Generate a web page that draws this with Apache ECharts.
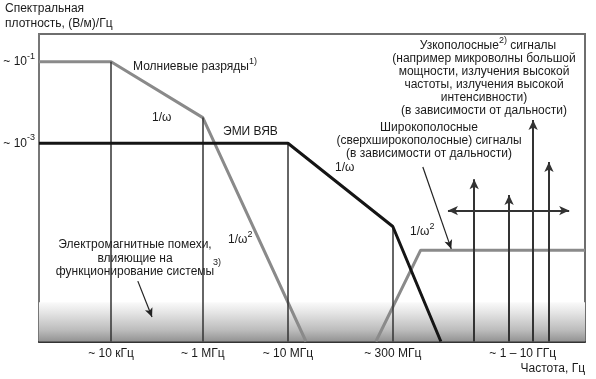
<!DOCTYPE html>
<html><head><meta charset="utf-8">
<script src="https://cdn.jsdelivr.net/npm/echarts@6/dist/echarts.min.js"></script>
<style>html,body{margin:0;padding:0;background:#fff}#c{width:596px;height:379px}</style>
</head><body><div id="c"></div>
<script>
// x: schematic frequency position (0..100 along the axis, axis is not to scale)
// y: log10 of spectral density, (V/m)/Hz
const xTickPos = [13.2, 30.0, 45.6, 64.8, 88.6];
const xTickLabels = ['~ 10 кГц', '~ 1 МГц', '~ 10 МГц', '~ 300 МГц', '~ 1 – 10 ГГц'];
const yTickPos = [-1, -3];
const yTickExp = ['-1', '-3'];

const lightningX = [0, 13.2, 30.0, 48.9];
const lightningY = [-1, -1, -2.37, -7.86];
const empX = [0, 45.6, 64.8, 73.6];
const empY = [-3, -3, -5.04, -7.86];
const widebandX = [61.7, 69.9, 100];
const widebandY = [-7.86, -5.62, -5.62];

const narrowX = [79.7, 86.1, 90.5, 93.4];
const narrowTop = [-3.88, -4.27, -2.43, -3.46];
const narrowRangeX = [74.9, 97.1];
const narrowRangeY = -4.65;

const dropX = [13.2, 30.0, 45.6, 64.8];
const dropTop = [-1, -2.37, -3, -5.04];

const noteArrowFrom = [[18.1, -6.38], [70.3, -3.58]];
const noteArrowTo = [[20.7, -7.26], [75.5, -5.59]];

const Y_MIN = -7.86, Y_MAX = -0.32;
const bandTop = -6.9;

const FONT = '"Liberation Sans", Arial, sans-serif';
const TXT = '#1a1a1a';

const zip = (xs, ys) => xs.map((x, i) => [x, ys[i]]);

const chart = echarts.init(document.getElementById('c'), null, {renderer: 'canvas'});

function txt(x, y, text, opts) {
  opts = opts || {};
  return {
    type: 'text', x: x, y: y, silent: true,
    style: {
      text: text, fill: TXT, fontSize: opts.fontSize || 12, fontFamily: FONT,
      textAlign: opts.align || 'left', textVerticalAlign: 'middle',
      lineHeight: opts.lineHeight || 14,
      rich: {
        s: {fontSize: 9, fontFamily: FONT, fill: TXT, color: TXT, verticalAlign: 'top'},
        b: {fontSize: 12, fontFamily: FONT, fill: TXT, color: TXT, lineHeight: opts.lineHeight || 14}
      }
    }
  };
}

const option = {
  animation: false,
  backgroundColor: '#fff',
  grid: {left: 39, right: 11, top: 34, bottom: 37.5, show: true, borderColor: '#6e6e6e', borderWidth: 2, containLabel: false},
  xAxis: {
    type: 'value', min: 0, max: 100,
    axisLine: {show: true, lineStyle: {color: '#333', width: 2}},
    axisTick: {show: false},
    splitLine: {show: false},
    axisLabel: {
      customValues: xTickPos, margin: 6, color: TXT, fontSize: 12, fontFamily: FONT,
      formatter: v => xTickLabels[xTickPos.indexOf(v)] || ''
    }
  },
  yAxis: {
    type: 'value', min: Y_MIN, max: Y_MAX,
    axisLine: {show: true, lineStyle: {color: '#777', width: 2}},
    axisTick: {show: false},
    splitLine: {show: false},
    axisLabel: {
      customValues: yTickPos, margin: 4, color: TXT, fontSize: 12, fontFamily: FONT,
      formatter: v => '{b|~ 10}{s|' + yTickExp[yTickPos.indexOf(v)] + '}',
      rich: {
        s: {fontSize: 9, fontFamily: FONT, color: TXT, verticalAlign: 'top'},
        b: {fontSize: 12, fontFamily: FONT, color: TXT, lineHeight: 20}
      }
    }
  },
  series: [
    {
      name: 'band', type: 'line', data: [], z: 1, silent: true,
      markArea: {
        silent: true,
        itemStyle: {
          color: {type: 'linear', x: 0, y: 0, x2: 0, y2: 1, colorStops: [
            {offset: 0, color: '#fafafa'}, {offset: 0.25, color: '#e6e6e6'},
            {offset: 0.7, color: '#bdbdbd'}, {offset: 1, color: '#939393'}]}
        },
        data: [[{coord: [0, bandTop]}, {coord: [100, Y_MIN]}]]
      }
    },
    {
      name: 'drops', type: 'line', data: [], z: 2, silent: true,
      markLine: {
        silent: true, symbol: ['none', 'none'], label: {show: false},
        lineStyle: {color: '#333', width: 1.5, type: 'solid'},
        data: dropX.map((x, i) => [{coord: [x, dropTop[i]]}, {coord: [x, Y_MIN]}])
      }
    },
    {
      name: 'narrowband', type: 'line', data: [], z: 3, silent: true,
      markLine: {
        silent: true, symbol: ['none', 'arrow'], symbolSize: [7, 10], label: {show: false},
        lineStyle: {color: '#333', width: 2, type: 'solid'},
        data: narrowX.map((x, i) => [{coord: [x, Y_MIN]}, {coord: [x, narrowTop[i]]}]).concat([
          [{coord: [narrowRangeX[0], narrowRangeY], symbol: 'arrow'}, {coord: [narrowRangeX[1], narrowRangeY]}]
        ])
      }
    },
    {
      name: 'notes', type: 'line', data: [], z: 3, silent: true,
      markLine: {
        silent: true, symbol: ['none', 'arrow'], symbolSize: [6, 9], label: {show: false},
        lineStyle: {color: '#222', width: 1.2, type: 'solid'},
        data: noteArrowFrom.map((p, i) => [{coord: p}, {coord: noteArrowTo[i]}])
      }
    },
    {
      name: 'Молниевые разряды', type: 'line', data: zip(lightningX, lightningY), z: 4,
      symbol: 'none', lineStyle: {color: '#8a8a8a', width: 3}, silent: true
    },
    {
      name: 'ЭМИ ВЯВ', type: 'line', data: zip(empX, empY), z: 5,
      symbol: 'none', lineStyle: {color: '#151515', width: 3}, silent: true
    },
    {
      name: 'Широкополосные', type: 'line', data: zip(widebandX, widebandY), z: 4,
      symbol: 'none', lineStyle: {color: '#8a8a8a', width: 3}, silent: true
    }
  ],
  graphic: [
    txt(5, 9, 'Спектральная'),
    txt(5, 24, 'плотность, (В/м)/Гц'),
    txt(585, 369, 'Частота, Гц', {align: 'right'}),
    txt(133, 67, '{b|Молниевые разряды}{s|1)}', {lineHeight: 20}),
    txt(152, 118, '1/ω'),
    txt(223, 132, 'ЭМИ ВЯВ'),
    txt(335, 168, '1/ω'),
    txt(228, 240, '{b|1/ω}{s|2}', {lineHeight: 20}),
    txt(410, 232, '{b|1/ω}{s|2}', {lineHeight: 20}),
    txt(135, 258.5, 'Электромагнитные помехи,\nвлияющие на\nфункционирование системы', {align: 'center', lineHeight: 13.5}),
    txt(213, 263, '3)', {fontSize: 9}),
    txt(488, 46, '{b|Узкополосные}{s|2)}{b| сигналы}', {align: 'center', lineHeight: 20}),
    txt(484, 85, '(например микроволны большой\nмощности, излучения высокой\nчастоты, излучения высокой\nинтенсивности)\n(в зависимости от дальности)', {align: 'center', lineHeight: 13}),
    txt(429, 141, 'Широкополосные\n(сверхширокополосные) сигналы\n(в зависимости от дальности)', {align: 'center', lineHeight: 13})
  ]
};
chart.setOption(option);
</script>
</body></html>
